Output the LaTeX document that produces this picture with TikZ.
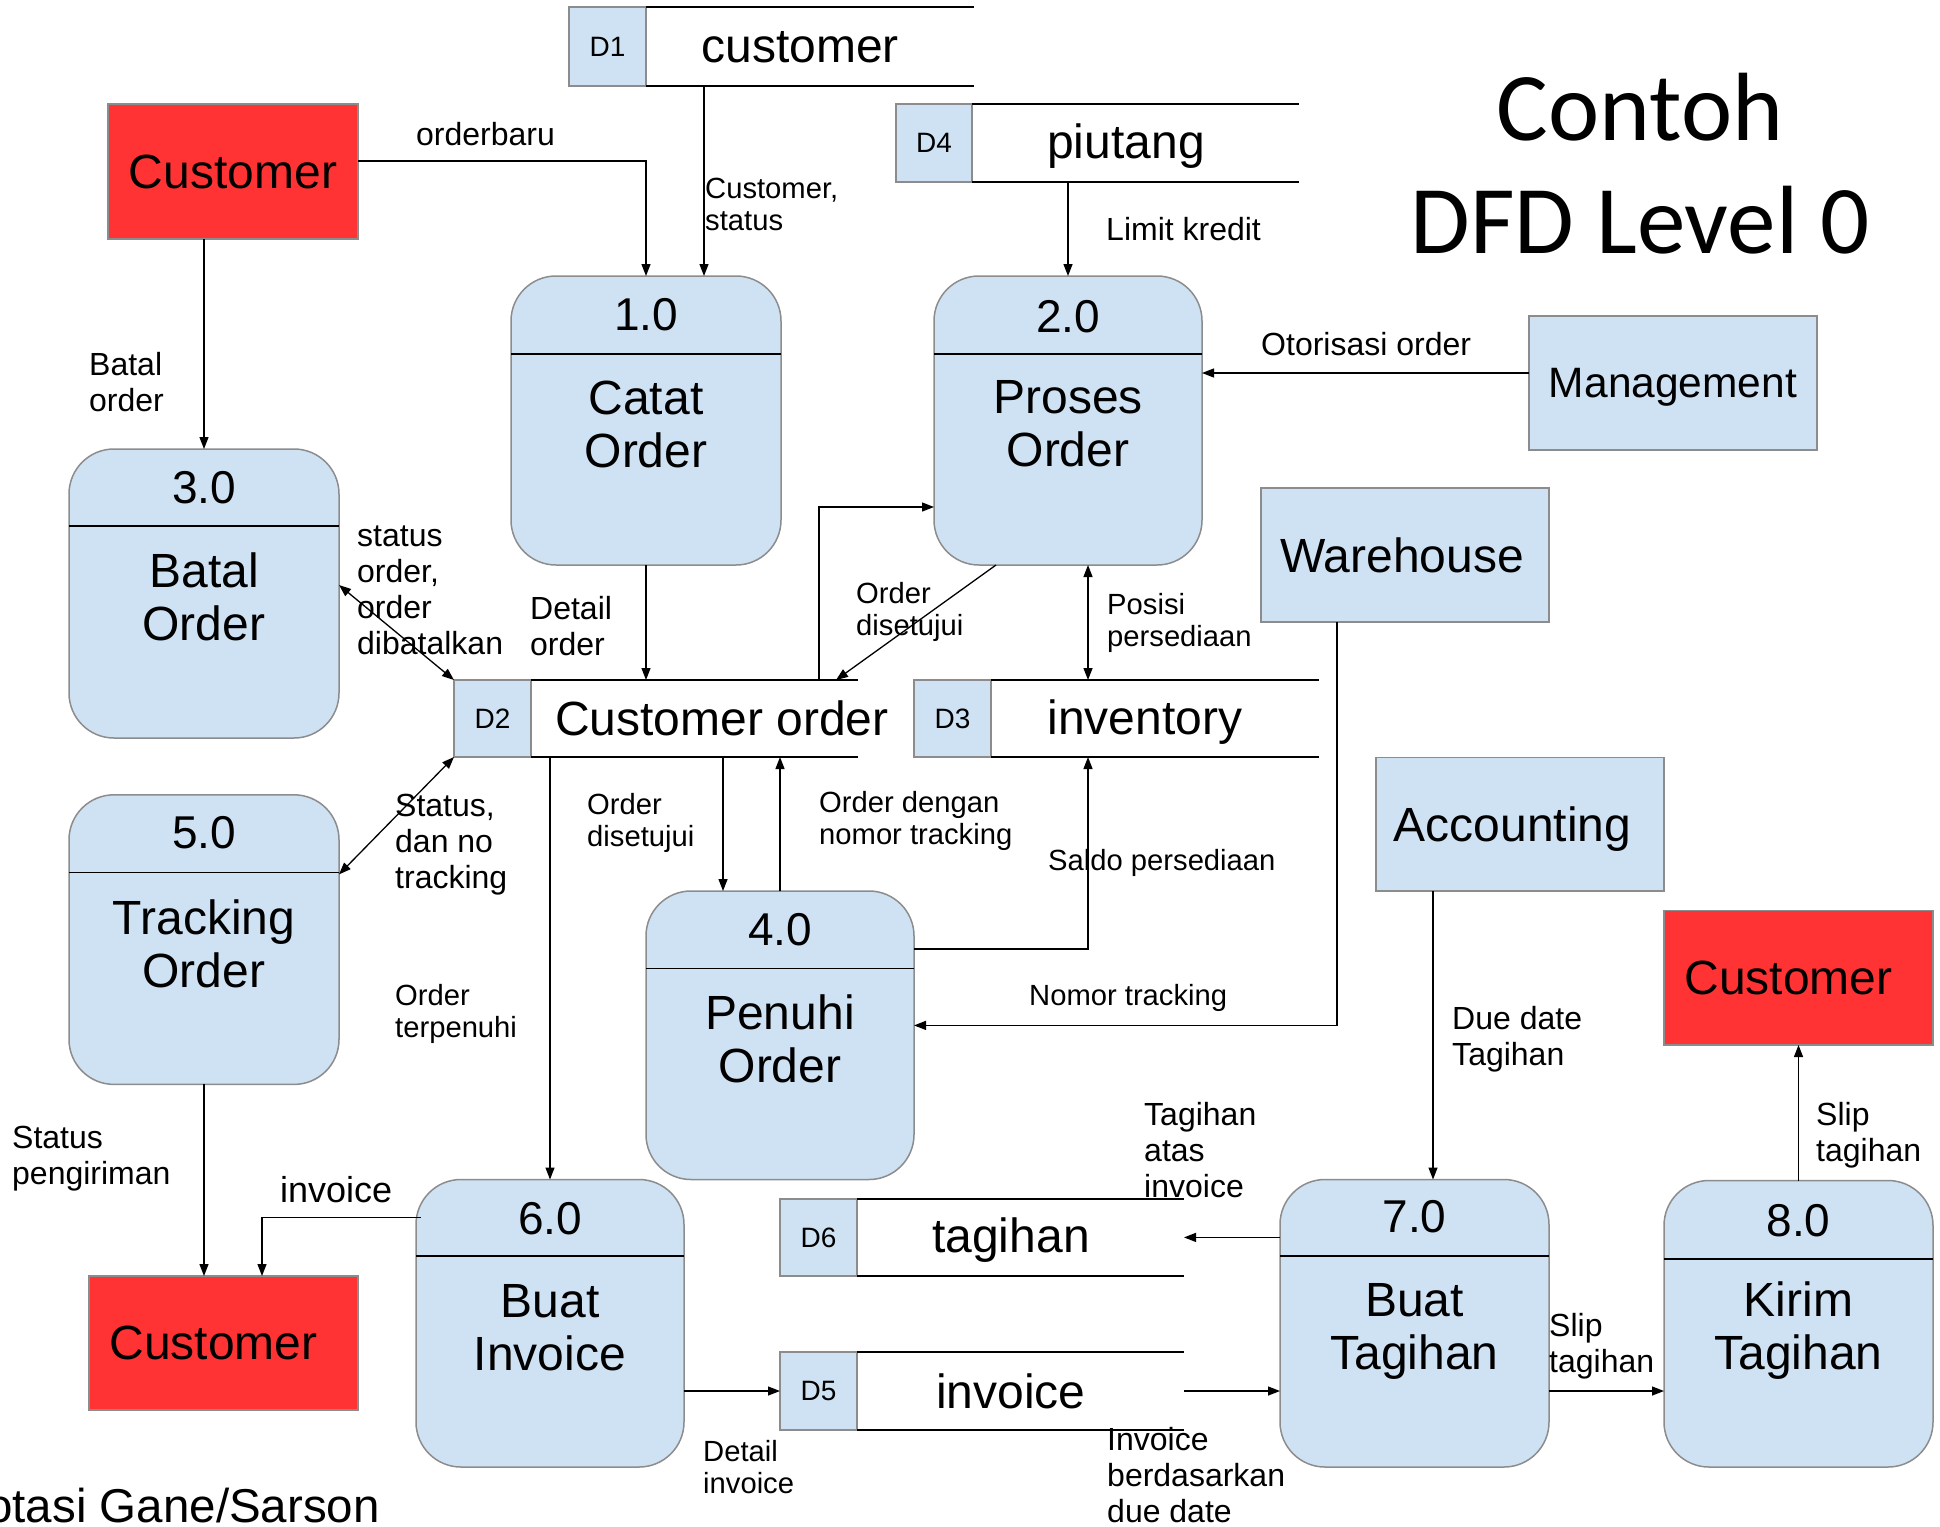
\documentclass[tikz,border=0pt]{standalone}
\usepackage{fontspec}
\setmainfont{Liberation Sans}
\newfontfamily\titlefont{Carlito}
\usetikzlibrary{arrows.meta}
\definecolor{procblue}{HTML}{CFE2F3}
\definecolor{bordergray}{HTML}{8C8C8C}
\definecolor{custred}{HTML}{FF3333}
\tikzset{
  proc/.style={draw=bordergray, fill=procblue, line width=1.5pt, rounded corners=45pt, inner sep=0pt, outer sep=0pt},
  ent/.style={draw=bordergray, fill=procblue, line width=1.5pt, inner sep=0pt, outer sep=0pt, font=\fontsize{48}{54}\selectfont},
  extred/.style={ent, fill=custred},
  divline/.style={line width=1.8pt, black},
  numtxt/.style={font=\fontsize{46}{52}\selectfont, inner sep=0pt},
  bigtxt/.style={font=\fontsize{48}{53}\selectfont, align=center, inner sep=0pt},
  dlab/.style={draw=bordergray, fill=procblue, line width=1.5pt, inner sep=0pt, outer sep=0pt, font=\fontsize{28}{32}\selectfont},
  dspan/.style={inner sep=0pt, outer sep=0pt},
  storeline/.style={line width=1.6pt, black},
  stxt/.style={font=\fontsize{48}{54}\selectfont, inner sep=0pt, text depth=0pt},
  flow/.style={line width=1.3pt, -{Triangle[length=12pt,width=9pt]}},
  flowtwo/.style={line width=1.3pt, {Triangle[length=12pt,width=9pt]}-{Triangle[length=12pt,width=9pt]}},
  lab/.style={font=\fontsize{32}{36}\selectfont, align=left, anchor=north west, inner sep=0pt},
  labsm/.style={lab, font=\fontsize{29.2}{32}\selectfont},
}
\begin{document}
\begin{tikzpicture}[x=1pt,y=-1pt]
\clip (0,0) rectangle (1940,1526);
\fill[white] (0,0) rectangle (1940,1526);

% title
\node[font=\titlefont\fontsize{97}{113}\selectfont, align=center, inner sep=0pt] (title) at (1640,163.5) {Contoh\\DFD Level 0};

% external entities
\node[extred, minimum width=250pt, minimum height=135pt] (cust1) at (233,171.5) {Customer};
\node[ent, minimum width=288pt, minimum height=134pt, font=\fontsize{42.5}{48}\selectfont, text depth=0pt] (mgmt) at (1673,383) {Management};
\node[ent, minimum width=288pt, minimum height=134pt] (wareh) at (1405,555) {Warehouse\hspace*{6pt}};
\node[ent, minimum width=288pt, minimum height=133.4pt, text depth=0pt] (acct) at (1520,824.3) {Accounting\hspace*{15pt}};
\node[extred, minimum width=269pt, minimum height=134.4pt] (cust3) at (1798.5,977.8) {Customer\hspace*{20pt}};
\node[extred, minimum width=269pt, minimum height=134pt] (cust2) at (223.5,1343) {Customer\hspace*{20pt}};

% processes
\node[proc, minimum width=270pt, minimum height=289pt] (p1) at (646,420.5) {};
\node[proc, minimum width=268pt, minimum height=289pt] (p2) at (1068,420.5) {};
\node[proc, minimum width=270pt, minimum height=289pt] (p3) at (204,593.5) {};
\node[proc, minimum width=268pt, minimum height=288.5pt] (p4) at (780,1035.25) {};
\node[proc, minimum width=270pt, minimum height=289.6pt] (p5) at (204,939.6) {};
\node[proc, minimum width=268pt, minimum height=287.5pt] (p6) at (550,1323.25) {};
\node[proc, minimum width=269pt, minimum height=287.5pt] (p7) at (1414.5,1323.25) {};
\node[proc, minimum width=269pt, minimum height=286.5pt] (p8) at (1798.5,1323.75) {};

\draw[divline] (p1.west |- 0,354) -- (p1.east |- 0,354);
\draw[divline] (p2.west |- 0,354) -- (p2.east |- 0,354);
\draw[divline] (p3.west |- 0,526) -- (p3.east |- 0,526);
\draw[divline] (p4.west |- 0,968.5) -- (p4.east |- 0,968.5);
\draw[divline] (p5.west |- 0,872.4) -- (p5.east |- 0,872.4);
\draw[divline] (p6.west |- 0,1256) -- (p6.east |- 0,1256);
\draw[divline] (p7.west |- 0,1256) -- (p7.east |- 0,1256);
\draw[divline] (p8.west |- 0,1259) -- (p8.east |- 0,1259);

\node[numtxt] (p1n) at (646,315) {1.0};
\node[bigtxt] (p1t) at (646,424) {Catat\\Order};
\node[numtxt] (p2n) at (1068,317) {2.0};
\node[bigtxt] (p2t) at (1068,424) {Proses\\Order};
\node[numtxt] (p3n) at (204,488) {3.0};
\node[bigtxt] (p3t) at (204,597) {Batal\\Order};
\node[numtxt] (p4n) at (780,930) {4.0};
\node[bigtxt] (p4t) at (780,1039) {Penuhi\\Order};
\node[numtxt] (p5n) at (204,833) {5.0};
\node[bigtxt] (p5t) at (204,944) {Tracking\\Order};
\node[numtxt] (p6n) at (550,1218.8) {6.0};
\node[bigtxt] (p6t) at (550,1327.7) {Buat\\Invoice};
\node[numtxt] (p7n) at (1414.5,1216.7) {7.0};
\node[bigtxt] (p7t) at (1414.5,1331) {Buat\\Tagihan};
\node[numtxt] (p8n) at (1798.5,1221) {8.0};
\node[bigtxt] (p8t) at (1798.5,1331) {Kirim\\Tagihan};

% data stores
\node[dlab, minimum width=77pt, minimum height=79pt] (d1) at (607.5,46.5) {D1};
\node[dspan, minimum width=405pt, minimum height=79pt] (d1s) at (771.5,46.5) {};
\node[stxt] (d1t) at (800,47) {customer};
\node[dlab, minimum width=76pt, minimum height=78pt] (d4) at (934,143) {D4};
\node[dspan, minimum width=403pt, minimum height=78pt] (d4s) at (1097.5,143) {};
\node[stxt] (d4t) at (1126,141) {piutang};
\node[dlab, minimum width=77pt, minimum height=77pt] (d2) at (492.5,718.5) {D2};
\node[dspan, minimum width=404pt, minimum height=77pt] (d2s) at (656,718.5) {};
\node[stxt] (d2t) at (722,718) {Customer order};
\node[dlab, minimum width=77pt, minimum height=77pt] (d3) at (952.5,718.5) {D3};
\node[dspan, minimum width=405pt, minimum height=77pt] (d3s) at (1116.5,718.5) {};
\node[stxt] (d3t) at (1145,717) {inventory};
\node[dlab, minimum width=77pt, minimum height=76.7pt] (d6) at (818.5,1237.4) {D6};
\node[dspan, minimum width=404pt, minimum height=76.7pt] (d6s) at (982,1237.4) {};
\node[stxt] (d6t) at (1011,1235) {tagihan};
\node[dlab, minimum width=77pt, minimum height=77.8pt] (d5) at (818.5,1391) {D5};
\node[dspan, minimum width=404pt, minimum height=77.8pt] (d5s) at (982,1391) {};
\node[stxt] (d5t) at (1011,1391) {invoice};

\foreach \d in {d1,d4,d2,d3,d6,d5}{
  \draw[storeline] (\d.north east) -- (\d s.north east);
  \draw[storeline] (\d.south east) -- (\d s.south east);
}

% named column
\coordinate (colinv) at (1088,0);

% flows
\draw[flow] ([yshift=10.5pt]cust1.east) -| (p1.north);
\draw[flow] ([xshift=58pt]p1.north |- d1s.south) -- ([xshift=58pt]p1.north);
\draw[flow] (cust1.south -| p3.north) -- (p3.north);
\draw[flow] (d4s.south -| p2.north) -- (p2.north);
\draw[flow] ([yshift=10pt]mgmt.west) -- ([yshift=10pt]mgmt.west -| p2.east);
\draw[flowtwo] ([yshift=8.5pt]p3.east) -- (d2.north west);
\draw[flow] (p1.south) -- (p1.south |- d2s.north);
\draw[flow] ([xshift=-39pt]d2s.north east) |- ([yshift=-86.5pt]p2.west);
\draw[flow] ([xshift=-72pt]p2.south) -- ([xshift=-22pt]d2s.north east);
\draw[flowtwo] (colinv |- p2.south) -- (colinv |- d3s.north);
\draw[flowtwo] (d2.south west) -- ([yshift=65.2pt]p5.east);
\draw[flow] (p6.north |- d2s.south) -- (p6.north);
\draw[flow] ([xshift=-57pt]p4.north |- d2s.south) -- ([xshift=-57pt]p4.north);
\draw[flow] (p4.north) -- (p4.north |- d2s.south);
\draw[flow] ([yshift=86.25pt]p4.east) -| (colinv |- d3s.south);
\draw[flow] ([xshift=-68pt]wareh.south) |- ([yshift=9.85pt]p4.east);
\draw[flow] (p5.south) -- (p5.south |- cust2.north);
\draw[flow] ([xshift=5pt,yshift=105.5pt]p6.west) -| ([xshift=38.5pt]cust2.north);
\draw[flow] (p6.east |- d5.west) -- (d5.west);
\draw[flow] (p7.west |- d6s.east) -- (d6s.east);
\draw[flow] (d5s.east) -- (d5s.east -| p7.west);
\draw[flow] ([xshift=18.5pt]p7.north |- acct.south) -- ([xshift=18.5pt]p7.north);
\draw[flow] (p7.east |- d5s.east) -- (p8.west |- d5s.east);
\draw[flow] (p8.north) -- (cust3.south);

% labels
\node[lab] (l1) at (416,122) {orderbaru};
\node[labsm] (l2) at (705,178) {Customer,\\status};
\node[lab] (l3) at (89,352) {Batal\\order};
\node[lab] (l4) at (1106,217) {Limit kredit};
\node[lab] (l5) at (1261,332) {Otorisasi order};
\node[lab] (l6) at (357,526) {status\\order,\\order\\dibatalkan};
\node[lab] (l7) at (530,596) {Detail\\order};
\node[labsm] (l8) at (856,582) {Order\\disetujui};
\node[labsm] (l9) at (1107,593) {Posisi\\persediaan};
\node[lab] (l10) at (395,793.8) {Status,\\dan no\\tracking};
\node[labsm] (l11) at (587,793) {Order\\disetujui};
\node[labsm] (l12) at (819,791) {Order dengan\\nomor tracking};
\node[labsm] (l13) at (1048,849) {Saldo persediaan};
\node[labsm] (l14) at (1029,984.5) {Nomor tracking};
\node[labsm] (l15) at (395,984.5) {Order\\terpenuhi};
\node[lab] (l16) at (12,1125.7) {Status\\pengiriman};
\node[lab, font=\fontsize{36}{40}\selectfont] (l17) at (280,1176.4) {invoice};
\node[labsm] (l18) at (703,1440) {Detail\\invoice};
\node[lab] (l19) at (1144,1102) {Tagihan\\atas\\invoice};
\node[lab] (l20) at (1107,1426.6) {Invoice\\berdasarkan\\due date};
\node[lab] (l21) at (1452,1005.8) {Due date\\Tagihan};
\node[lab] (l22) at (1549,1313) {Slip\\tagihan};
\node[lab] (l23) at (1816,1102) {Slip\\tagihan};
\node[font=\fontsize{47.5}{52}\selectfont, inner sep=0pt, anchor=base east] (notasi) at (380,1522) {Notasi Gane/Sarson};
\end{tikzpicture}
\end{document}
